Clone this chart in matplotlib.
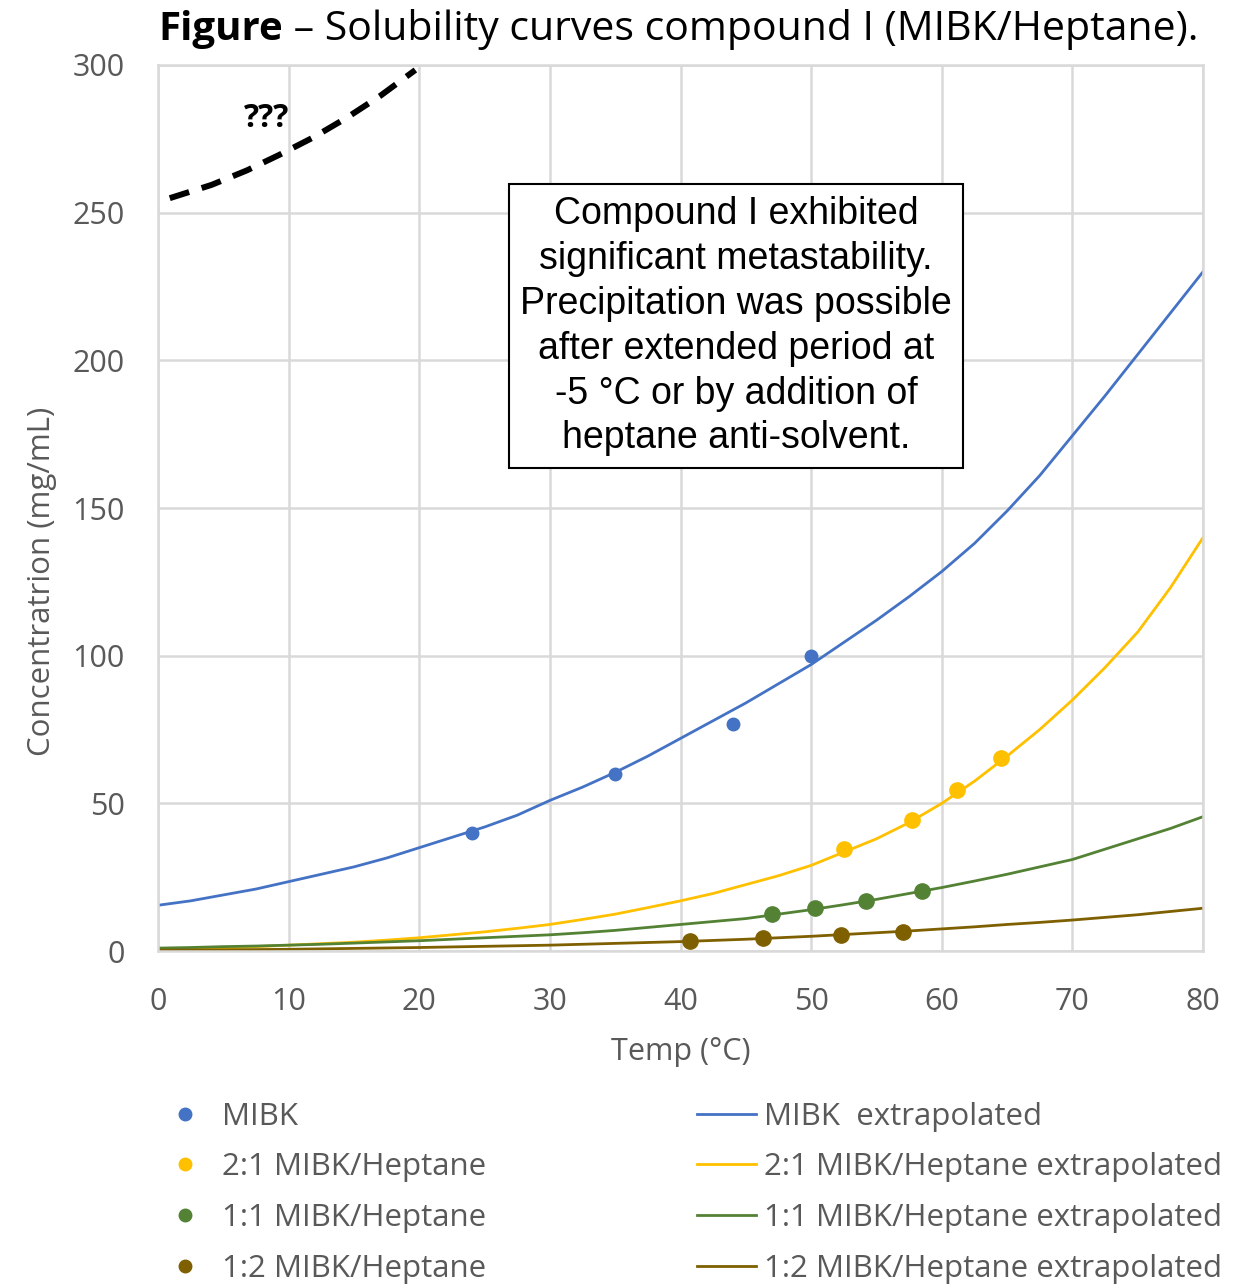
import numpy as np
import matplotlib
matplotlib.use('Agg')
import matplotlib.pyplot as plt
from matplotlib.lines import Line2D

plt.rcParams['font.family'] = ['Open Sans', 'DejaVu Sans']

# measured solubility points
mibk_t = [24, 35, 44, 50]
mibk_c = [40, 60, 77, 100]
r21_t = [52.5, 57.7, 61.2, 64.5]
r21_c = [34.5, 44.5, 54.5, 65.5]
r11_t = [47, 50.3, 54.2, 58.5]
r11_c = [12.5, 14.5, 17, 20.5]
r12_t = [40.7, 46.3, 52.3, 57]
r12_c = [3.5, 4.3, 5.3, 6.3]

# extrapolated curves, every 2.5 degC
temp = [0, 2.5, 5, 7.5, 10, 12.5, 15, 17.5, 20, 22.5, 25, 27.5, 30, 32.5, 35, 37.5, 40,
        42.5, 45, 47.5, 50, 52.5, 55, 57.5, 60, 62.5, 65, 67.5, 70, 72.5, 75, 77.5, 80]
mibk_fit = [15.5, 17, 19, 21, 23.5, 26, 28.5, 31.5, 35, 38.5, 42, 46, 51, 55.5, 60.5, 66, 72,
            78, 84, 90.5, 97, 104.5, 112, 120, 128.5, 138, 149, 161, 174.5, 188, 202, 216, 230]
r21_fit = [0.5, 0.7, 1, 1.5, 2, 2.5, 3, 3.7, 4.5, 5.5, 6.5, 7.7, 9, 10.7, 12.5, 14.7, 17,
           19.5, 22.5, 25.5, 29, 33.5, 38, 43.5, 50, 57.5, 66, 75, 85, 96, 108, 123, 140]
r11_fit = [1, 1.2, 1.5, 1.7, 2, 2.3, 2.7, 3.1, 3.5, 4, 4.5, 5, 5.5, 6.2, 7, 8, 9,
           10, 11, 12.5, 14, 15.7, 17.5, 19.5, 21.5, 23.7, 26, 28.5, 31, 34.5, 38, 41.5, 45.5]
r12_fit = [0.3, 0.35, 0.4, 0.5, 0.6, 0.75, 0.9, 1.05, 1.2, 1.4, 1.6, 1.8, 2, 2.3, 2.6, 2.9, 3.2,
           3.6, 4, 4.5, 5, 5.6, 6.2, 6.8, 7.5, 8.2, 9, 9.7, 10.5, 11.4, 12.3, 13.4, 14.5]

# speculative metastable curve
meta_t = [0.9, 4.1, 6.8, 9.3, 11.9, 14.4, 17, 19.7]
meta_c = [254.9, 259.4, 264.3, 269.6, 275.5, 282, 289.5, 298.3]

c_blue = '#4472C4'
c_yellow = '#FFC000'
c_green = '#548235'
c_brown = '#7F6000'
grey = '#595959'

fig = plt.figure(figsize=(12.55, 12.84), dpi=100)
ax = fig.add_axes([0.1259, 0.2593, 0.8327, 0.6901])

ax.plot(temp, mibk_fit, color=c_blue, lw=2)
ax.plot(temp, r21_fit, color=c_yellow, lw=2)
ax.plot(temp, r11_fit, color=c_green, lw=2)
ax.plot(temp, r12_fit, color=c_brown, lw=2)

ax.plot(mibk_t, mibk_c, 'o', color=c_blue, ms=9)
ax.plot(r21_t, r21_c, 'o', color=c_yellow, ms=11)
ax.plot(r11_t, r11_c, 'o', color=c_green, ms=11)
ax.plot(r12_t, r12_c, 'o', color=c_brown, ms=11)

ax.plot(meta_t, meta_c, color='black', lw=4.3, dashes=(3.4, 2.2), solid_capstyle='butt')
ax.text(8.3, 282, '???', fontsize=23, fontweight='bold', ha='center', va='center')

ax.set_xlim(0, 80)
ax.set_ylim(0, 300)
ax.set_xticks(range(0, 81, 10))
ax.set_yticks(range(0, 301, 50))
ax.grid(True, color='#D9D9D9', lw=1.8)
ax.set_axisbelow(True)
for s in ax.spines.values():
    s.set_color('#D9D9D9')
    s.set_linewidth(1.8)
ax.tick_params(length=0, labelsize=22, labelcolor=grey)
ax.tick_params(axis='x', pad=26)
ax.tick_params(axis='y', pad=24)
ax.set_xlabel('Temp (°C)', fontsize=22, color=grey, labelpad=14)
ax.set_ylabel('Concentratrion (mg/mL)', fontsize=22.5, color=grey)
ax.yaxis.set_label_coords(-0.097, 0.4176)

ax.text(44.26, 211.6, 'Compound I exhibited\nsignificant metastability.\nPrecipitation was possible\nafter extended period at\n-5 °C or by addition of\nheptane anti-solvent.',
        family='Liberation Sans', fontsize=27, ha='center', va='center', linespacing=1.32,
        bbox=dict(boxstyle='square,pad=0.3', fc='white', ec='black', lw=1.5))

# title: bold lead word followed by the regular text
t1 = fig.text(0.126, 0.977, 'Figure', fontsize=29, fontweight='bold', va='center', ha='left')
ax.annotate(' – Solubility curves compound I (MIBK/Heptane).', xy=(1, 0.5), xycoords=t1,
            fontsize=29.5, va='center', ha='left', annotation_clip=False)

names = ['MIBK', '2:1 MIBK/Heptane', '1:1 MIBK/Heptane', '1:2 MIBK/Heptane']
cols = [c_blue, c_yellow, c_green, c_brown]
pts = [Line2D([], [], ls='', marker='o', color=c, ms=9) for c in cols]
lines = [Line2D([], [], color=c, lw=2) for c in cols]
line_labels = ['MIBK  extrapolated'] + [n + ' extrapolated' for n in names[1:]]

leg_kw = dict(loc='upper left', frameon=False, fontsize=22.5, labelcolor=grey,
              borderpad=0, borderaxespad=0, labelspacing=0.66)
leg1 = fig.legend(pts, names, bbox_to_anchor=(0.1347, 0.142), handlelength=1.0,
                  handletextpad=0.68, **leg_kw)
leg2 = fig.legend(lines, line_labels, bbox_to_anchor=(0.5554, 0.142), handlelength=1.9,
                  handletextpad=0.25, **leg_kw)

fig.savefig('out.png', dpi=100)
